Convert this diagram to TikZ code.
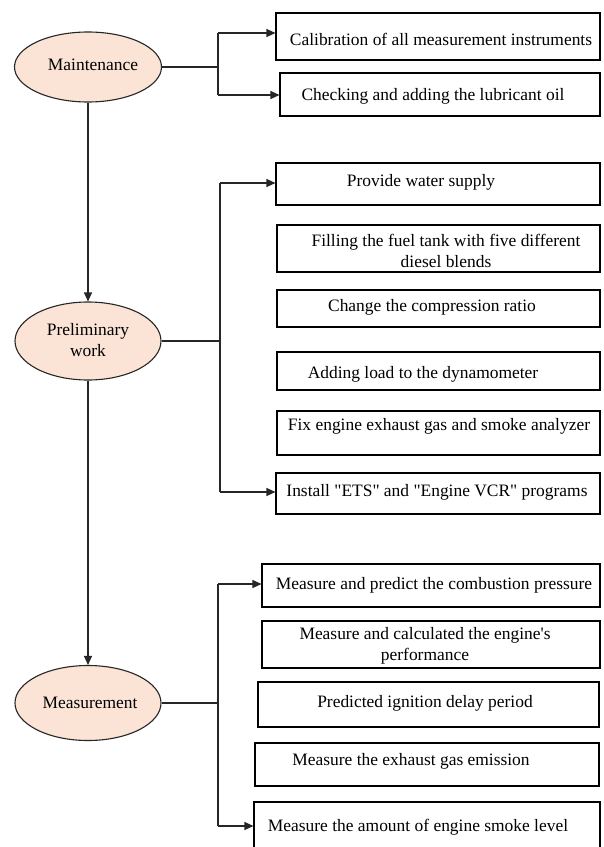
\documentclass[tikz,border=0pt]{standalone}
\usepackage{fontspec}
\setmainfont{Liberation Serif}[Ligatures=TeXOff]
\usetikzlibrary{arrows.meta,shapes.geometric,fit}
\definecolor{peach}{HTML}{FBE4D5}
\begin{document}
\begin{tikzpicture}[x=1bp,y=-1bp,
  font=\fontsize{17.5}{21}\selectfont,
  box/.style={draw=black,line width=1.1bp,inner sep=0pt,rectangle},
  txt/.style={inner sep=0pt,align=center},
  oval/.style={ellipse,draw=black!85,fill=peach,line width=1.1bp,inner sep=0pt,align=center},
  conn/.style={line width=1.1bp,draw=black!85},
  arr/.style={conn,-{Triangle[length=9bp,width=8bp]}}]
\useasboundingbox (0,0) rectangle (604,847);
% ellipses
\node[oval,minimum width=147bp,minimum height=70bp] (m) at (88,67) {};
\node[txt] (mt) at (93,65) {Maintenance};
\node[oval,minimum width=146bp,minimum height=78bp] (p) at (88,341) {};
\node[txt] (pt) at (88,340) {Preliminary\\work};
\node[oval,minimum width=146bp,minimum height=75bp] (s) at (88,703) {};
\node[txt] (st) at (90,703) {Measurement};
% boxes
\node[box,fit={(276,13)(600,60)}] (b1) {};
\node[box,fit={(280,73)(600,116)}] (b2) {};
\node[box,fit={(276,163)(600,205)}] (b3) {};
\node[box,fit={(277,225)(600,272)}] (b4) {};
\node[box,fit={(277,290)(600,327)}] (b5) {};
\node[box,fit={(277,352)(600,390)}] (b6) {};
\node[box,fit={(277,411)(600,455)}] (b7) {};
\node[box,fit={(276,473)(600,514)}] (b8) {};
\node[box,fit={(262,564)(600,607)}] (b9) {};
\node[box,fit={(262,621)(600,668)}] (b10) {};
\node[box,fit={(258,682)(599,727)}] (b11) {};
\node[box,fit={(255,743)(599,786)}] (b12) {};
\node[box,fit={(254,802)(600,870)}] (b13) {};
% texts
\node[txt] (t1) at (441,39) {Calibration of all measurement instruments};
\node[txt] (t2) at (433,96) {Checking and adding the lubricant oil};
\node[txt] (t3) at (421,182) {Provide water supply};
\node[txt] (t4) at (446,251) {Filling the fuel tank with five different\\diesel blends};
\node[txt] (t5) at (432,307) {Change the compression ratio};
\node[txt] (t6) at (423,374) {Adding load to the dynamometer};
\node[txt] (t7) at (439,426) {Fix engine exhaust gas and smoke analyzer};
\node[txt] (t8) at (437,492) {Install "ETS" and "Engine VCR" programs};
\node[txt] (t9) at (434,585) {Measure and predict the combustion pressure};
\node[txt] (t10) at (425,646) {Measure and calculated the engine's\\performance};
\node[txt] (t11) at (425,703) {Predicted ignition delay period};
\node[txt] (t12) at (411,761) {Measure the exhaust gas emission};
\node[txt] (t13) at (418,827) {Measure the amount of engine smoke level};
% junctions
\coordinate (j1) at (218,67);
\coordinate (j1a) at (218,33);
\coordinate (j1b) at (218,95);
\coordinate (j2) at (220,341);
\coordinate (j2a) at (220,183);
\coordinate (j2b) at (220,492);
\coordinate (j3) at (218,703);
\coordinate (j3a) at (218,584);
\coordinate (j3b) at (218,826);
% connectors
\draw[conn] (m.east) -- (j1);
\draw[conn] (j1a) -- (j1b);
\draw[arr] (j1a) -- (j1a -| b1.west);
\draw[arr] (j1b) -- (j1b -| b2.west);
\draw[conn] (p.east) -- (j2);
\draw[conn] (j2a) -- (j2b);
\draw[arr] (j2a) -- (j2a -| b3.west);
\draw[arr] (j2b) -- (j2b -| b8.west);
\draw[conn] (s.east) -- (j3);
\draw[conn] (j3a) -- (j3b);
\draw[arr] (j3a) -- (j3a -| b9.west);
\draw[arr] (j3b) -- (j3b -| b13.west);
\draw[arr] (m.south) -- (p.north);
\draw[arr] (p.south) -- (s.north);
\end{tikzpicture}
\end{document}
